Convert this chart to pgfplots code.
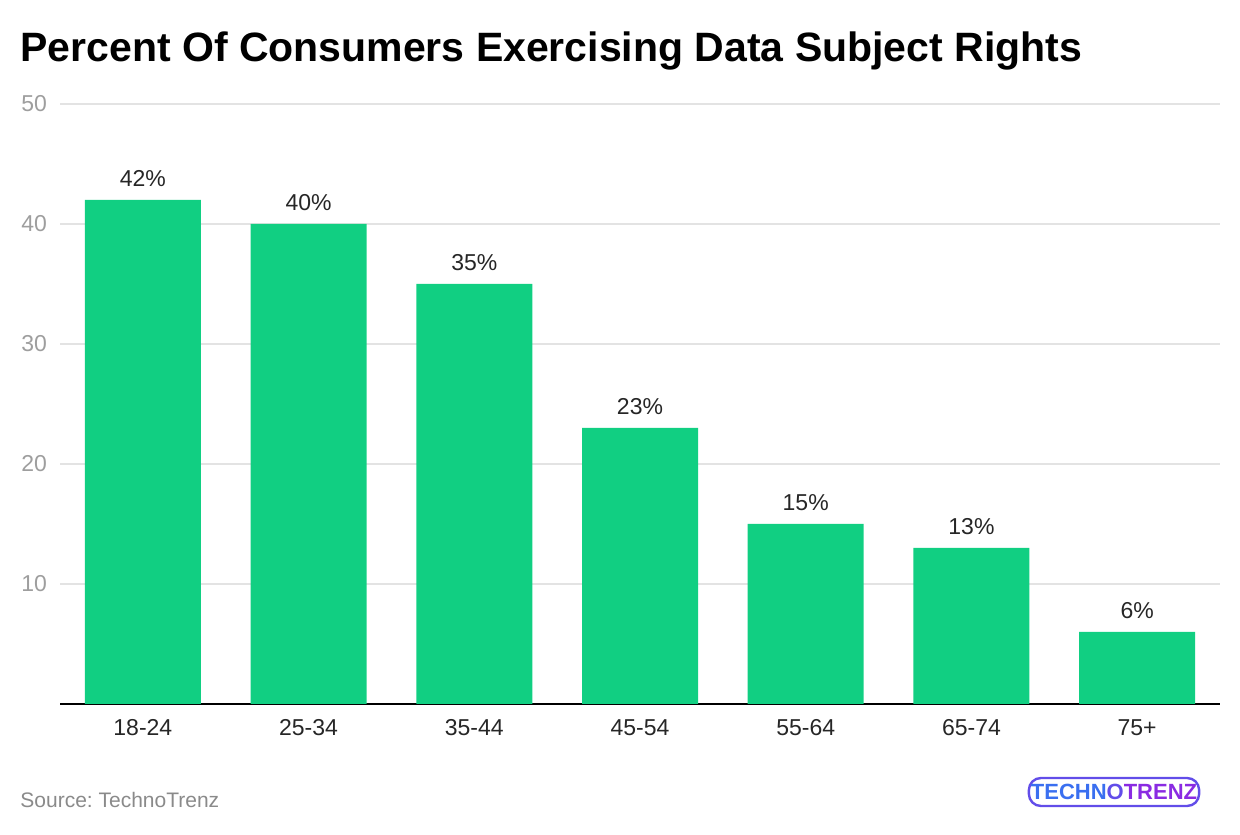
\documentclass[border=0pt]{standalone}
\usepackage{pgfplots}
\pgfplotsset{compat=1.18}
\usepackage{fontspec}
\setmainfont{Liberation Sans}
\frenchspacing
\definecolor{bargreen}{HTML}{11CF82}
\definecolor{gridgrey}{HTML}{E3E3E3}
\definecolor{ticklab}{HTML}{9E9E9E}
\definecolor{srcgrey}{HTML}{8A8A8A}
\definecolor{logoblue}{HTML}{3A6FF0}
\definecolor{logopurple}{HTML}{8A2BE2}
\begin{document}
\begin{tikzpicture}[x=1pt,y=1pt]
\path[use as bounding box] (0,0) rectangle (620,417);
\node[anchor=base west, inner sep=0pt, font=\fontsize{20.5}{24}\selectfont\bfseries] at (10,386) {Percent Of Consumers Exercising Data Subject Rights};
\node[anchor=base west, inner sep=0pt, font=\fontsize{10.5}{12}\selectfont, text=srcgrey] at (10,13) {Source: TechnoTrenz};
\begin{axis}[
  at={(30pt,65pt)}, anchor=south west,
  scale only axis, width=580pt, height=300pt,
  xmin=-0.5, xmax=6.5, ymin=0, ymax=50,
  ybar, bar width=58pt,
  xtick={0,1,2,3,4,5,6},
  xticklabels={18-24,25-34,35-44,45-54,55-64,65-74,75+},
  ytick={10,20,30,40,50},
  ymajorgrids, grid style={gridgrey, line width=0.8pt},
  axis x line*=bottom, axis y line*=left,
  x axis line style={black, line width=0.9pt, -},
  y axis line style={draw=none},
  major tick length=0pt,
  /pgf/number format/assume math mode=true,
  xticklabel style={font=\fontsize{11.5}{13}\selectfont, text=black!85, text height=1.6ex, text depth=0.3ex, yshift=-4pt},
  yticklabel style={font=\fontsize{11.5}{13}\selectfont, text=ticklab, xshift=-3pt},
  nodes near coords={\pgfmathprintnumber{\pgfplotspointmeta}\%},
  nodes near coords style={font=\fontsize{11.5}{13}\selectfont, text=black!85, yshift=3pt},
  clip=false,
]
\addplot[fill=bargreen, draw=none] coordinates {(0,42) (1,40) (2,35) (3,23) (4,15) (5,13) (6,6)};
\end{axis}
\node[draw, rounded corners=6pt, line width=1.2pt, draw=logoblue!50!logopurple, minimum width=83pt, minimum height=14pt, inner sep=1pt, font=\fontsize{11}{12}\selectfont\bfseries] at (557,21) {\textcolor{logoblue}{TECHN}\textcolor{logoblue!50!logopurple}{O}\textcolor{logopurple}{TRENZ}};
\end{tikzpicture}
\end{document}
